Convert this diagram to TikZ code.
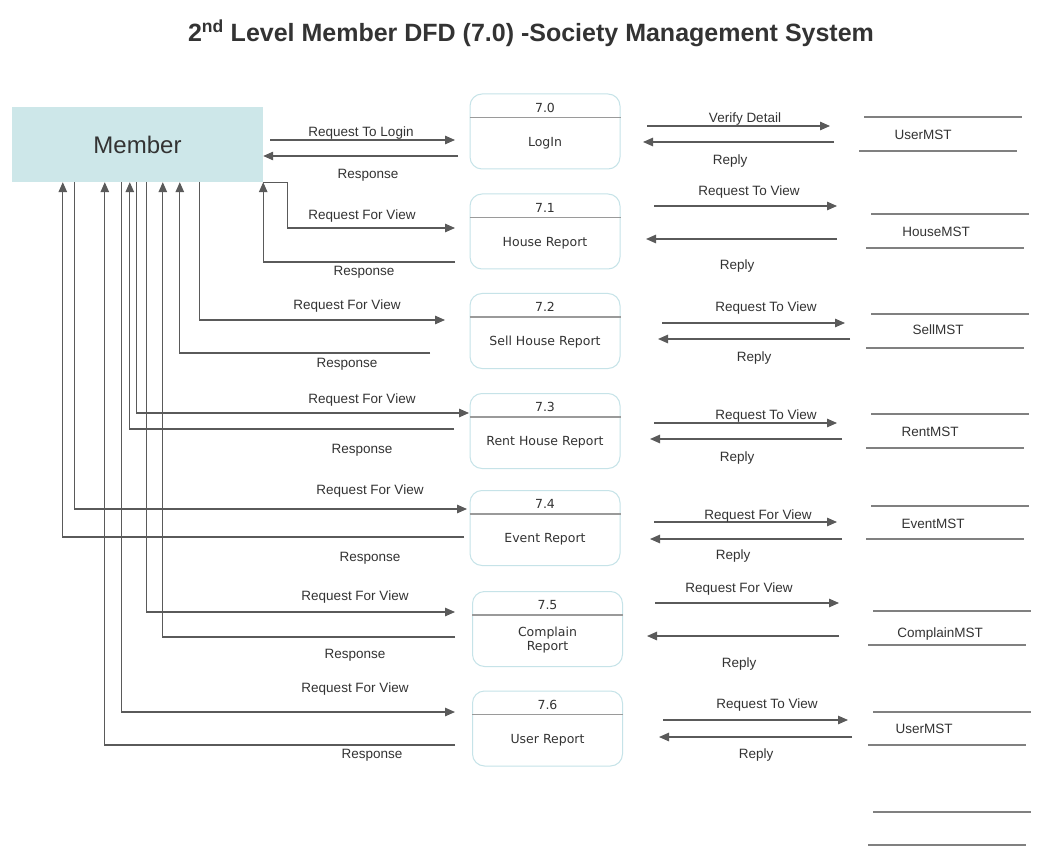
\documentclass[tikz,border=0pt]{standalone}
\usepackage{fontspec}
\setmainfont{Liberation Sans}
\newfontfamily\procfont{DejaVu Sans}
\usetikzlibrary{arrows.meta,calc}
\definecolor{txt}{HTML}{333333}
\definecolor{ln}{HTML}{5A5A5A}
\definecolor{memfill}{HTML}{CDE7E9}
\definecolor{procborder}{HTML}{C6E3E8}
\definecolor{divider}{HTML}{9A9A9A}
\definecolor{storeln}{HTML}{808080}
\newcommand\mkproc[5]{%
  \node[procbox] (#1) at (#2,#3) {};
  \draw[divline] ([yshift=-24pt]#1.north west) -- ([yshift=-24pt]#1.north east);
  \node[procnum] (#1num) at ([yshift=-14pt]#1.north) {#4};
  \node[proctxt] (#1name) at ([yshift=-49.5pt]#1.north) {#5};
}
\newcommand\mkstore[5]{%
  \coordinate (#1ta) at (#2,#4); \coordinate (#1tb) at ($(#1ta)+(158,0)$);
  \coordinate (#1ba) at (#3,#5); \coordinate (#1bb) at ($(#1ba)+(158,0)$);
  \draw[storeline] (#1ta) -- (#1tb);
  \draw[storeline] (#1ba) -- (#1bb);
}
\begin{document}
\begin{tikzpicture}[x=1pt,y=-1pt,
  flow/.style={draw=ln, line width=1.2pt, -{Triangle[length=10pt,width=8.5pt]}},
  lbl/.style={font=\fontsize{13.5}{15}\selectfont, text=txt, inner sep=0pt},
  procbox/.style={draw=procborder, line width=1pt, rounded corners=12pt, minimum width=150pt, minimum height=75pt, inner sep=0pt},
  divline/.style={draw=divider, line width=1.1pt},
  procnum/.style={font=\procfont\fontsize{12.5}{14}\selectfont, text=txt, inner sep=0pt},
  proctxt/.style={font=\procfont\fontsize{12.5}{15.5}\selectfont, text=txt, inner sep=0pt, align=center},
  storeline/.style={draw=storeln, line width=1.2pt},
  storetxt/.style={font=\fontsize{13.5}{15}\selectfont, text=txt, inner sep=0pt},
]
\useasboundingbox[fill=white] (0,0) rectangle (1043,858);

% title
\node[font=\bfseries\fontsize{25}{29}\selectfont, text=txt, inner sep=0pt] (title) at (531,33)
  {2\textsuperscript{nd} Level Member DFD (7.0) -Society Management System};

% member
\node[fill=memfill, minimum width=251pt, minimum height=75pt, inner sep=0pt,
  font=\fontsize{24}{28}\selectfont, text=txt] (m) at (137.5,144.5) {Member};

% processes
\mkproc{p0}{545}{131.5}{7.0}{LogIn}
\mkproc{p1}{545}{231.5}{7.1}{House Report}
\mkproc{p2}{545}{331}{7.2}{Sell House Report}
\mkproc{p3}{545}{431}{7.3}{Rent House Report}
\mkproc{p4}{545}{528}{7.4}{Event Report}
\mkproc{p5}{547.5}{629}{7.5}{Complain\\[-1.5pt]Report}
\mkproc{p6}{547.5}{728.5}{7.6}{User Report}

% stores
\mkstore{s0}{864}{859}{117}{151}
\mkstore{s1}{871}{866}{214}{248}
\mkstore{s2}{871}{866}{314}{348}
\mkstore{s3}{871}{866}{414}{448}
\mkstore{s4}{871}{866}{506}{539}
\mkstore{s5}{873}{868}{611}{645}
\mkstore{s6}{873}{868}{712}{745}
\mkstore{s7}{873}{868}{812}{845}
\node[storetxt] (s0t) at (923,135) {UserMST};
\node[storetxt] (s1t) at (936,232) {HouseMST};
\node[storetxt] (s2t) at (938,330) {SellMST};
\node[storetxt] (s3t) at (930,432) {RentMST};
\node[storetxt] (s4t) at (933,524) {EventMST};
\node[storetxt] (s5t) at (940,634) {ComplainMST};
\node[storetxt] (s6t) at (924,729) {UserMST};

% left side end points
\coordinate (a0) at (270,140);  \coordinate (q0) at (455,140);
\coordinate (r0) at (458,156);
\coordinate (q1) at (455,228);  \coordinate (r1) at (455,262);
\coordinate (q2) at (445,320);  \coordinate (r2) at (430,353);
\coordinate (q3) at (469,413);  \coordinate (r3) at (454,429);
\coordinate (q4) at (467,509);  \coordinate (r4) at (464,537);
\coordinate (q5) at (455,612);  \coordinate (r5) at (455,637);
\coordinate (q6) at (455,712);  \coordinate (r6) at (455,745);

% 7.0
\draw[flow] (a0) -- (q0);
\draw[flow] (r0) -- (r0 -| m.east);
% 7.1
\draw[flow] (m.south east) -- ++(24,0) |- (q1);
\draw[flow] (r1) -| (m.south east);
% 7.2
\draw[flow] ([xshift=188pt]m.south west) |- (q2);
\draw[flow] (r2) -| ([xshift=168pt]m.south west);
% 7.3
\draw[flow] ([xshift=125pt]m.south west) |- (q3);
\draw[flow] (r3) -| ([xshift=118pt]m.south west);
% 7.4
\draw[flow] ([xshift=63pt]m.south west) |- (q4);
\draw[flow] (r4) -| ([xshift=51pt]m.south west);
% 7.5
\draw[flow] ([xshift=135pt]m.south west) |- (q5);
\draw[flow] (r5) -| ([xshift=151pt]m.south west);
% 7.6
\draw[flow] ([xshift=110pt]m.south west) |- (q6);
\draw[flow] (r6) -| ([xshift=93pt]m.south west);

% left labels
\node[lbl] (l0a) at (361,133) {Request To Login};
\node[lbl] (l0b) at (368,175) {Response};
\node[lbl] (l1a) at (362,216) {Request For View};
\node[lbl] (l1b) at (364,272) {Response};
\node[lbl] (l2a) at (347,306) {Request For View};
\node[lbl] (l2b) at (347,364) {Response};
\node[lbl] (l3a) at (362,400) {Request For View};
\node[lbl] (l3b) at (362,450) {Response};
\node[lbl] (l4a) at (370,491) {Request For View};
\node[lbl] (l4b) at (370,558) {Response};
\node[lbl] (l5a) at (355,597) {Request For View};
\node[lbl] (l5b) at (355,655) {Response};
\node[lbl] (l6a) at (355,689) {Request For View};
\node[lbl] (l6b) at (372,755) {Response};

% right side arrows
\coordinate (u0a) at (647,126); \coordinate (u0b) at (830,126);
\coordinate (v0a) at (834,142); \coordinate (v0b) at (643,142);
\coordinate (u1a) at (654,206); \coordinate (u1b) at (837,206);
\coordinate (v1a) at (837,239); \coordinate (v1b) at (646,239);
\coordinate (u2a) at (662,323); \coordinate (u2b) at (845,323);
\coordinate (v2a) at (850,339); \coordinate (v2b) at (658,339);
\coordinate (u3a) at (654,423); \coordinate (u3b) at (837,423);
\coordinate (v3a) at (842,439); \coordinate (v3b) at (650,439);
\coordinate (u4a) at (654,522); \coordinate (u4b) at (837,522);
\coordinate (v4a) at (842,539); \coordinate (v4b) at (650,539);
\coordinate (u5a) at (655,603); \coordinate (u5b) at (839,603);
\coordinate (v5a) at (839,636); \coordinate (v5b) at (647,636);
\coordinate (u6a) at (663,720); \coordinate (u6b) at (848,720);
\coordinate (v6a) at (852,737); \coordinate (v6b) at (659,737);
\foreach \i in {0,...,6}{
  \draw[flow] (u\i a) -- (u\i b);
  \draw[flow] (v\i a) -- (v\i b);
}

% right labels
\node[lbl] (k0a) at (745,119) {Verify Detail};
\node[lbl] (k0b) at (730,161) {Reply};
\node[lbl] (k1a) at (749,192) {Request To View};
\node[lbl] (k1b) at (737,266) {Reply};
\node[lbl] (k2a) at (766,308) {Request To View};
\node[lbl] (k2b) at (754,358) {Reply};
\node[lbl] (k3a) at (766,416) {Request To View};
\node[lbl] (k3b) at (737,458) {Reply};
\node[lbl] (k4a) at (758,516) {Request For View};
\node[lbl] (k4b) at (733,556) {Reply};
\node[lbl] (k5a) at (739,589) {Request For View};
\node[lbl] (k5b) at (739,664) {Reply};
\node[lbl] (k6a) at (767,705) {Request To View};
\node[lbl] (k6b) at (756,755) {Reply};
\end{tikzpicture}
\end{document}
